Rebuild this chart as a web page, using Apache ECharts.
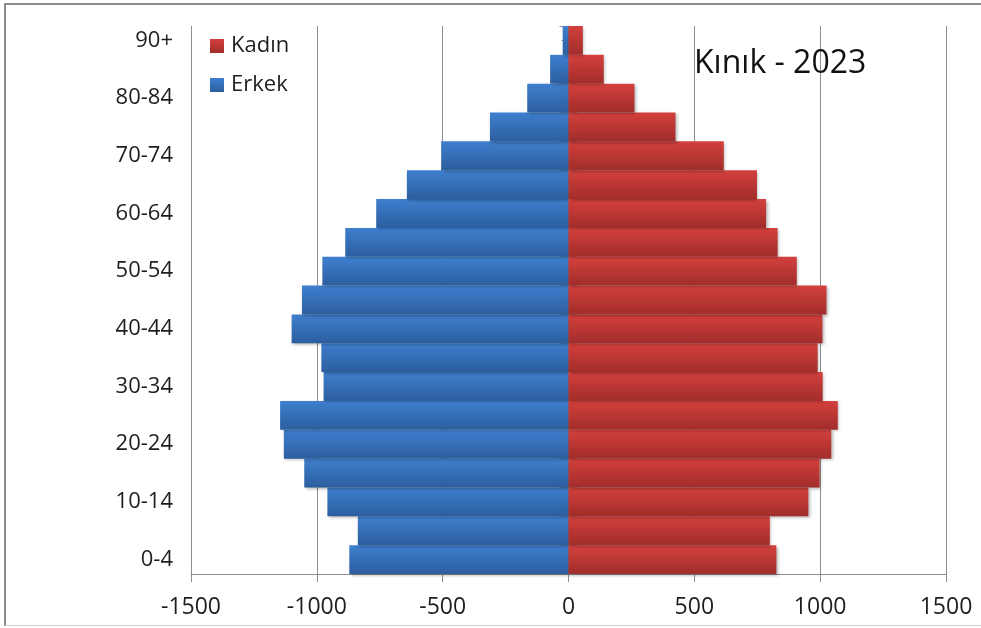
<!DOCTYPE html>
<html>
<head>
<meta charset="utf-8">
<title>Kınık - 2023</title>
<script src="https://cdn.jsdelivr.net/npm/echarts@6/dist/echarts.min.js"></script>
<style>
  html, body { margin: 0; padding: 0; background: #fff; }
  #chart { position: absolute; left: 0; top: 0; width: 981px; height: 628px; }
  #frame {
    position: absolute; left: 4px; top: 3px; width: 977px; height: 623px;
    box-sizing: border-box; pointer-events: none;
    border-top: 2px solid #8d8d8d; border-left: 2px solid #8d8d8d;
    border-bottom: 1px solid #d0d0d0;
  }
</style>
</head>
<body>
<div id="chart"></div>
<div id="frame"></div>
<script>
// age groups, bottom to top
var ageGroups = ['0-4', '5-9', '10-14', '15-19', '20-24', '25-29', '30-34', '35-39',
  '40-44', '45-49', '50-54', '55-59', '60-64', '65-69', '70-74', '75-79',
  '80-84', '85-89', '90+'];

// men (drawn on the left as negative values)
var erkek = [871, 837, 958, 1050, 1131, 1146, 973, 982, 1100, 1059,
  978, 887, 764, 642, 506, 312, 164, 73, 23];

// women
var kadin = [826, 800, 953, 998, 1044, 1070, 1010, 990, 1009, 1025,
  907, 831, 785, 749, 617, 425, 262, 140, 57];

var xTicks = [-1500, -1000, -500, 0, 500, 1000, 1500];

var font = 'Open Sans';
var gray = '#8e8e8e';

var chart = echarts.init(document.getElementById('chart'));

function grad(top, bottom) {
  return new echarts.graphic.LinearGradient(0, 0, 0, 1, [
    { offset: 0, color: top },
    { offset: 1, color: bottom }
  ]);
}

// extra y axes sitting on x = 0, only used for the cross ticks
function zeroAxis(inside, len, centered, showLine) {
  return {
    type: 'category',
    data: ageGroups,
    position: 'left',
    axisLine: { show: showLine, onZero: true, onZeroAxisIndex: 0, lineStyle: { color: gray, width: 1 } },
    axisTick: { show: true, inside: inside, length: len, alignWithLabel: centered, lineStyle: { color: gray } },
    axisLabel: { show: false },
    splitLine: { show: false }
  };
}

var option = {
  animation: false,
  textStyle: { fontFamily: font },
  title: {
    text: 'Kınık - 2023',
    left: 694,
    top: 48,
    padding: 0,
    textStyle: { fontFamily: font, fontSize: 32, fontWeight: 'normal', color: '#111' }
  },
  legend: {
    orient: 'vertical',
    left: 210,
    top: 35,
    padding: 0,
    itemWidth: 14,
    itemHeight: 14,
    itemGap: 17,
    icon: 'rect',
    data: ['Kadın', 'Erkek'],
    textStyle: { fontFamily: font, fontSize: 22, color: '#1e1e1e', padding: [0, 0, 0, 2] }
  },
  grid: { left: 191, right: 35, top: 26, bottom: 54 },
  xAxis: {
    type: 'value',
    min: xTicks[0],
    max: xTicks[xTicks.length - 1],
    interval: 500,
    axisLine: { show: true, lineStyle: { color: gray } },
    axisTick: { show: true, length: 8, lineStyle: { color: gray } },
    splitLine: { show: true, lineStyle: { color: gray, width: 1 } },
    axisLabel: {
      margin: 22,
      fontFamily: font,
      fontSize: 23,
      color: '#1e1e1e',
      formatter: function (v) { return String(v); }
    }
  },
  yAxis: [
    {
      type: 'category',
      data: ageGroups,
      position: 'left',
      axisLine: { show: false, onZero: false },
      axisTick: { show: false },
      axisLabel: { interval: 1, margin: 18, padding: [4, 0, 0, 0], fontFamily: font, fontSize: 22, color: '#1e1e1e' }
    },
    zeroAxis(false, 9, false, true),
    zeroAxis(true, 9, false, false),
    zeroAxis(false, 7, true, false),
    zeroAxis(true, 7, true, false)
  ],
  series: [
    {
      name: 'Erkek',
      type: 'bar',
      barGap: '-100%',
      barCategoryGap: '0%',
      data: erkek.map(function (v) { return -v; }),
      itemStyle: {
        color: grad('#3e7fcf', '#2c5e9e'),
        shadowBlur: 3,
        shadowOffsetX: 1.5,
        shadowOffsetY: 1.5,
        shadowColor: 'rgba(0,0,0,0.3)'
      }
    },
    {
      name: 'Kadın',
      type: 'bar',
      barGap: '-100%',
      barCategoryGap: '0%',
      data: kadin,
      itemStyle: {
        color: grad('#d4403d', '#a12d2a'),
        shadowBlur: 3,
        shadowOffsetX: 1.5,
        shadowOffsetY: 1.5,
        shadowColor: 'rgba(0,0,0,0.3)'
      }
    }
  ]
};

chart.setOption(option);
</script>
</body>
</html>
